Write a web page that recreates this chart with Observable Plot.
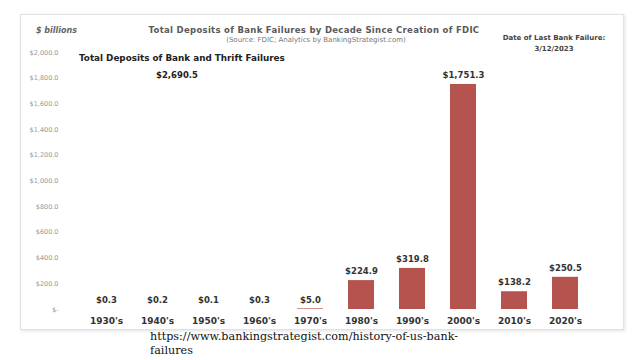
<!DOCTYPE html>
<html>
<head>
<meta charset="utf-8">
<script src="https://cdn.jsdelivr.net/npm/d3@7"></script>
<script src="https://cdn.jsdelivr.net/npm/@observablehq/plot@0.6"></script>
<style>
  html, body { margin: 0; padding: 0; background: #fff; }
  body { width: 640px; height: 360px; position: relative; overflow: hidden; }
  #frame { position: absolute; left: 20px; top: 14px; width: 602px; height: 314px;
           border: 1px solid #e2e2e2; box-shadow: 1px 1px 3px rgba(0,0,0,0.12); background: #fff; }
  #chart { position: absolute; left: 0; top: 0; }
  .t { position: absolute; font-family: "DejaVu Sans", Verdana, sans-serif; white-space: nowrap; }
  #unit { left: 15px; top: 11px; font-size: 8px; font-style: italic; color: #666; font-weight: bold; }
  #title { left: -8px; width: 602px; top: 10px; text-align: center; font-size: 8.5px; font-weight: bold; color: #595959; letter-spacing: 0.3px; }
  #subtitle { left: -6px; width: 602px; top: 21px; text-align: center; font-size: 7px; color: #777; }
  #lastdate { left: 468px; width: 130px; top: 18px; text-align: center; font-size: 7px; font-weight: bold; color: #444; line-height: 10.5px; }
  #inner { left: 58px; top: 38px; font-size: 8.8px; font-weight: bold; color: #222; }
  #total { left: 96px; width: 120px; top: 55px; text-align: center; font-size: 8.5px; font-weight: bold; color: #222; }
  #caption { position: absolute; left: 150px; top: 330px; font-family: Georgia, "DejaVu Serif", serif; font-size: 11.2px; line-height: 14px; color: #111; white-space: nowrap; }
</style>
</head>
<body>
<div id="frame">
  <div id="chart"></div>
  <div class="t" id="unit"></div>
  <div class="t" id="title"></div>
  <div class="t" id="subtitle"></div>
  <div class="t" id="lastdate"></div>
  <div class="t" id="inner"></div>
  <div class="t" id="total"></div>
</div>
<div id="caption"></div>
<script>
const decades = ["1930's","1940's","1950's","1960's","1970's","1980's","1990's","2000's","2010's","2020's"];
const deposits = [0.3, 0.2, 0.1, 0.3, 5.0, 224.9, 319.8, 1751.3, 138.2, 250.5];
const yTicks = [0, 200, 400, 600, 800, 1000, 1200, 1400, 1600, 1800, 2000];
const titleText = "Total Deposits of Bank Failures by Decade Since Creation of FDIC";
const subtitleText = "(Source: FDIC; Analytics by BankingStrategist.com)";
const unitText = "$ billions";
const lastDateLines = ["Date of Last Bank Failure:", "3/12/2023"];
const innerTitle = "Total Deposits of Bank and Thrift Failures";
const totalLabel = "$2,690.5";
const captionLines = ["https://www.bankingstrategist.com/history-of-us-bank-", "failures"];

const data = decades.map((d, i) => ({decade: d, value: deposits[i]}));
const money = v => v === 0 ? "$-" : "$" + d3.format(",.1f")(v);

const chart = Plot.plot({
  width: 602,
  height: 314,
  marginTop: 37,
  marginBottom: 20,
  marginLeft: 47,
  marginRight: 20,
  style: {fontFamily: "'DejaVu Sans', Verdana, sans-serif", background: "transparent"},
  x: {domain: decades, padding: 0.49, label: null, axis: null},
  y: {domain: [0, 2000], ticks: yTicks, label: null, axis: null},
  marks: [
    Plot.gridY(yTicks, {stroke: "#e4e4e4", strokeOpacity: 1, x1: 43, x2: 582}),
    Plot.axisY(yTicks, {tickSize: 0, tickPadding: 10, tickFormat: money, fontSize: 6.5, fill: "#999", label: null}),
    Plot.barY(data, {x: "decade", y: "value", fill: "#b5534f"}),
    Plot.ruleY([0], {stroke: "#d0d0d0", x1: 43, x2: 582}),
    Plot.text(data, {x: "decade", y: "value", text: d => money(d.value), dy: -9, fontSize: 8.5, fontWeight: "bold", fill: "#333"}),
    Plot.axisX(decades, {tickSize: 0, tickPadding: 8, fontSize: 9, fontWeight: "bold", fill: "#333", label: null})
  ]
});
document.getElementById("chart").appendChild(chart);
document.getElementById("unit").textContent = unitText;
document.getElementById("title").textContent = titleText;
document.getElementById("subtitle").textContent = subtitleText;
document.getElementById("lastdate").innerHTML = lastDateLines.join("<br>");
document.getElementById("inner").textContent = innerTitle;
document.getElementById("total").textContent = totalLabel;
document.getElementById("caption").innerHTML = captionLines.join("<br>");
</script>
</body>
</html>
